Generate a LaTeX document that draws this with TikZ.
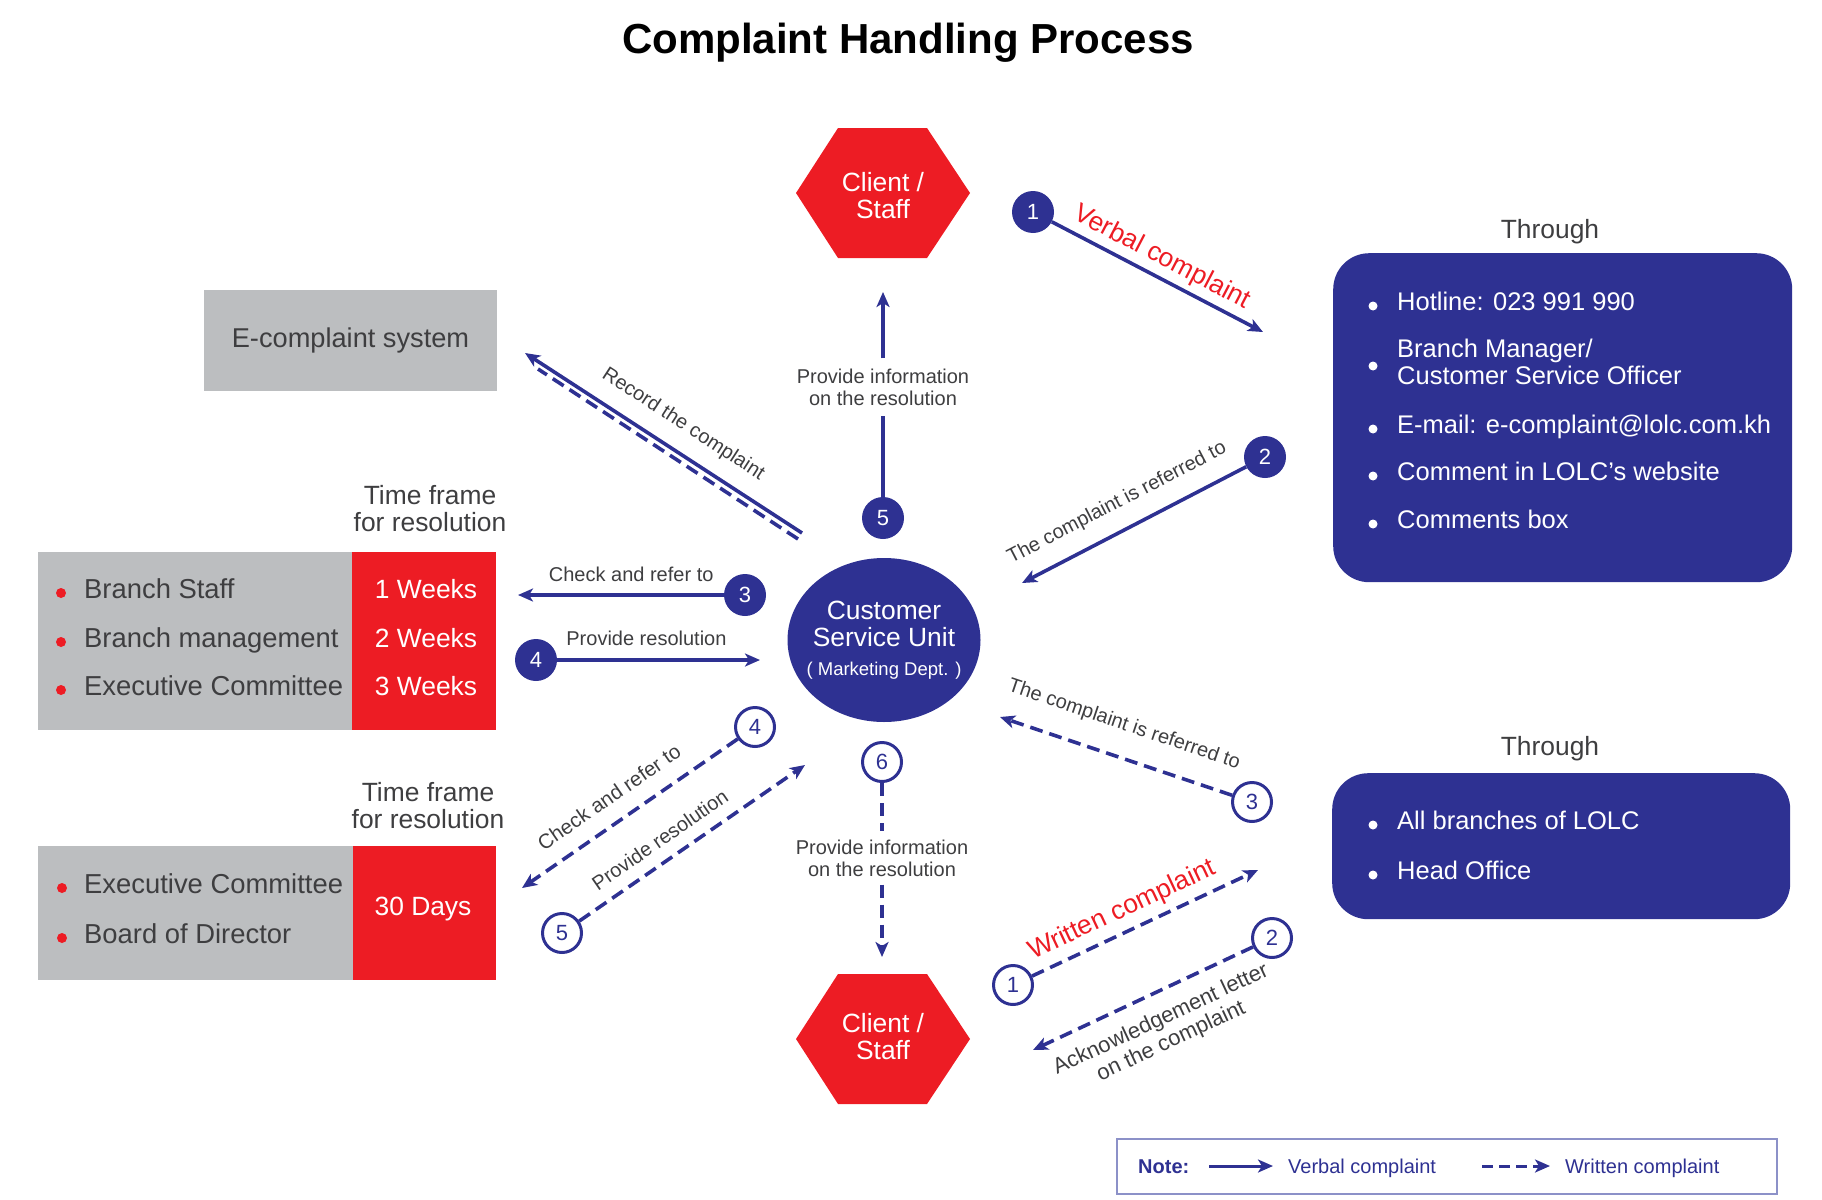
\documentclass[tikz,border=0pt]{standalone}
\usepackage{fontspec}
\setmainfont{Liberation Sans}
\usetikzlibrary{shapes.geometric, arrows.meta, positioning, calc}

\definecolor{unitblue}{RGB}{46, 49, 146}
\definecolor{alertred}{RGB}{237, 28, 36}
\definecolor{panelgrey}{RGB}{188, 190, 192}
\definecolor{inkgrey}{RGB}{62, 62, 64}
\definecolor{noteframe}{RGB}{140, 145, 200}

\begin{document}
\begin{tikzpicture}[
  x=1pt, y=-1pt,
  bodytext/.style={font=\fontsize{26.4}{27}\selectfont},
  labeltext/.style={font=\fontsize{20}{22}\selectfont},
  lbl/.style={labeltext, text=inkgrey, inner sep=2pt},
  redlbl/.style={bodytext, text=alertred, inner sep=2pt},
  vline/.style={line width=3.6pt, unitblue},
  wline/.style={vline, dash pattern=on 13pt off 7pt},
  varr/.style={vline, -{Stealth[length=15pt, width=13pt, inset=4pt]}},
  warr/.style={wline, -{Stealth[length=15pt, width=13pt, inset=4pt]}},
  numdot/.style={circle, fill=unitblue, text=white, minimum size=42pt, inner sep=0pt, font=\fontsize{22}{22}\selectfont},
  numring/.style={circle, draw=unitblue, line width=3pt, fill=white, text=unitblue, minimum size=39pt, inner sep=0pt, font=\fontsize{22}{22}\selectfont},
  hexlabel/.style={bodytext, text=white, align=center, inner sep=0pt},
  greybox/.style={fill=panelgrey, inner sep=0pt, anchor=north west},
  redbox/.style={fill=alertred, inner sep=0pt, anchor=north west},
  viabox/.style={fill=unitblue, rounded corners=36pt, inner sep=0pt, anchor=north west},
  rowtxt/.style={font=\fontsize{27.4}{28}\selectfont, text=inkgrey, inner sep=0pt, anchor=base west},
  daytxt/.style={bodytext, text=white, inner sep=0pt, anchor=base},
  viatxt/.style={font=\fontsize{25.5}{27}\selectfont, text=white, inner sep=0pt, anchor=base west},
  headtxt/.style={bodytext, text=inkgrey, align=center, inner sep=0pt},
  notetxt/.style={labeltext, text=unitblue, inner sep=0pt, anchor=base west},
]
\useasboundingbox (0,0) rectangle (1822,1199);

% title
\node[font=\fontsize{42}{48}\selectfont\bfseries, anchor=base] (title) at (908,53) {Complaint Handling Process};

% client / staff hexagons
\foreach \cy in {193, 1039}
  \fill[alertred] (796,\cy) -- ++(42,-65) -- ++(89,0) -- ++(43,65) -- ++(-43,65) -- ++(-89,0) -- cycle;
\node[hexlabel] (clienttop) at (883,196) {Client /\\Staff};
\node[hexlabel] (clientbot) at (883,1037) {Client /\\Staff};

% customer service unit
\node[ellipse, fill=unitblue, minimum width=193pt, minimum height=164pt] (csu) at (884,640) {};
\node[bodytext, text=white, align=center, inner sep=0pt] (csutxt) at (csu) {Customer\\Service Unit\\[2pt]{\fontsize{18.5}{20}\selectfont ( Marketing Dept. )}};

% e-complaint system
\node[fill=panelgrey, minimum width=293pt, minimum height=101pt, font=\fontsize{27.2}{28}\selectfont, text=inkgrey] (ecsys) at (350.5,340.5) {E-complaint system};

% time frames
\node[headtxt] (frame1) at (430,509) {Time frame\\for resolution};
\node[greybox, minimum width=314pt, minimum height=178pt] (staffcol) at (38,552) {};
\node[redbox, minimum width=144pt, minimum height=178pt] (weekcol) at (352,552) {};
\foreach \yy/\who/\wk in {598/Branch Staff/1 Weeks, 647/Branch management/2 Weeks, 695/Executive Committee/3 Weeks} {
  \fill[alertred] (61,\yy-5) circle (5);
  \node[rowtxt] (who\yy) at (84,\yy) {\who};
  \node[daytxt] (wk\yy) at (426,\yy) {\wk};
}

\node[headtxt] (frame2) at (428,806) {Time frame\\for resolution};
\node[greybox, minimum width=315pt, minimum height=134pt] (boardcol) at (38,846) {};
\node[redbox, minimum width=143pt, minimum height=134pt] (daycol) at (353,846) {};
\foreach \yy/\who in {893/Executive Committee, 943/Board of Director} {
  \fill[alertred] (62,\yy-5) circle (5);
  \node[rowtxt] (who\yy) at (84,\yy) {\who};
}
\node[daytxt] (days) at (423,915) {30 Days};

% channels
\node[bodytext, text=inkgrey, anchor=base] (through1) at (1550,238) {Through};
\node[viabox, minimum width=459pt, minimum height=329pt] (verbalvia) at (1333,253) {};
\foreach \yy/\txt in {310/Hotline: 023 991 990, 433/E-mail: e-complaint@lolc.com.kh, 480/Comment in LOLC's website, 528/Comments box} {
  \fill[white] (1373,\yy-4) circle (4.5);
  \node[viatxt] (via\yy) at (1397,\yy) {\txt};
}
\fill[white] (1373,366) circle (4.5);
\node[viatxt, anchor=west, align=left] (via358) at (1397,362) {Branch Manager/\\Customer Service Officer};

\node[bodytext, text=inkgrey, anchor=base] (through2) at (1550,755) {Through};
\node[viabox, minimum width=458pt, minimum height=146pt] (writtenvia) at (1332,773) {};
\foreach \yy/\txt in {829/All branches of LOLC, 879/Head Office} {
  \fill[white] (1373,\yy-4) circle (4.5);
  \node[viatxt] (via\yy) at (1397,\yy) {\txt};
}

% verbal complaint flow
\node[numdot] (v1) at (1033,212) {1};
\coordinate (v1tip) at (1263,332);
\draw[varr] (v1) -- (v1tip) node[redlbl, pos=0.48, sloped, above=3pt] {Verbal complaint};

\node[numdot] (v2) at (1265,457) {2};
\coordinate (v2tip) at (1022,583);
\draw[varr] (v2) -- (v2tip) node[lbl, pos=0.52, sloped, above=14pt] {The complaint is referred to};

\coordinate (recfrom) at (802,533);
\coordinate (recto) at (525,353);
\coordinate (recdashfrom) at (798,539);
\coordinate (recdashto) at (538,369);
\draw[varr] (recfrom) -- (recto) node[lbl, pos=0.48, sloped, above=13pt] {Record the complaint};
\draw[wline] (recdashfrom) -- (recdashto);

\node[numdot] (v3) at (745,595) {3};
\coordinate (v3tip) at (518,595);
\draw[varr] (v3) -- (v3tip) node[lbl, pos=0.45, above=10pt] {Check and refer to};

\node[numdot] (v4) at (536,660) {4};
\coordinate (v4tip) at (760,660);
\draw[varr] (v4) -- (v4tip) node[lbl, pos=0.44, above=11pt] {Provide resolution};

\node[numdot] (v5) at (883,518) {5};
\node[lbl, align=center, inner ysep=10pt] (infotop) at (883,387) {Provide information\\on the resolution};
\coordinate (toptip) at (883,292);
\draw[vline] (v5) -- (infotop);
\draw[varr] (infotop) -- (toptip);

% written complaint flow
\node[numring] (w1) at (1013,985) {1};
\coordinate (w1tip) at (1258,870);
\draw[warr] (w1) -- (w1tip) node[redlbl, pos=0.44, sloped, above=5pt] {Written complaint};

\node[numring] (w2) at (1272,938) {2};
\coordinate (w2tip) at (1033,1050);
\draw[warr] (w2) -- (w2tip) node[lbl, font=\fontsize{22}{24}\selectfont, align=center, pos=0.47, sloped, below=13pt] {Acknowledgement letter\\on the complaint};

\node[numring] (w3) at (1252,802) {3};
\coordinate (w3tip) at (1000,717);
\draw[warr] (w3) -- (w3tip) node[lbl, pos=0.51, sloped, above=19pt] {The complaint is referred to};

\node[numring] (w4) at (755,727) {4};
\coordinate (w4tip) at (522,888);
\draw[warr] (w4) -- (w4tip) node[lbl, font=\fontsize{20.5}{22}\selectfont, pos=0.53, sloped, above=14pt] {Check and refer to};

\node[numring] (w5) at (562,933) {5};
\coordinate (w5tip) at (805,765);
\draw[warr] (w5) -- (w5tip) node[lbl, pos=0.41, sloped, above=10pt] {Provide resolution};

\node[numring] (w6) at (882,762) {6};
\node[lbl, align=center, inner ysep=8pt] (infobot) at (882,858) {Provide information\\on the resolution};
\coordinate (bottip) at (882,957);
\draw[wline] (w6) -- (infobot);
\draw[warr] (infobot) -- (bottip);

% note
\node[draw=noteframe, line width=1.5pt, minimum width=660pt, minimum height=55pt, anchor=north west, inner sep=0pt] (notebox) at (1116,1138) {};
\node[notetxt] (notehead) at (1138,1173.5) {\bfseries Note:};
\coordinate (keyva) at (1209,1166);
\coordinate (keyvb) at (1273,1166);
\draw[varr, line width=3pt] (keyva) -- (keyvb);
\node[notetxt] (keyv) at (1288,1173.5) {Verbal complaint};
\coordinate (keywa) at (1482,1166);
\coordinate (keywb) at (1550,1166);
\draw[warr, line width=3pt, dash pattern=on 11pt off 6pt] (keywa) -- (keywb);
\node[notetxt] (keyw) at (1565,1173.5) {Written complaint};
\end{tikzpicture}
\end{document}
